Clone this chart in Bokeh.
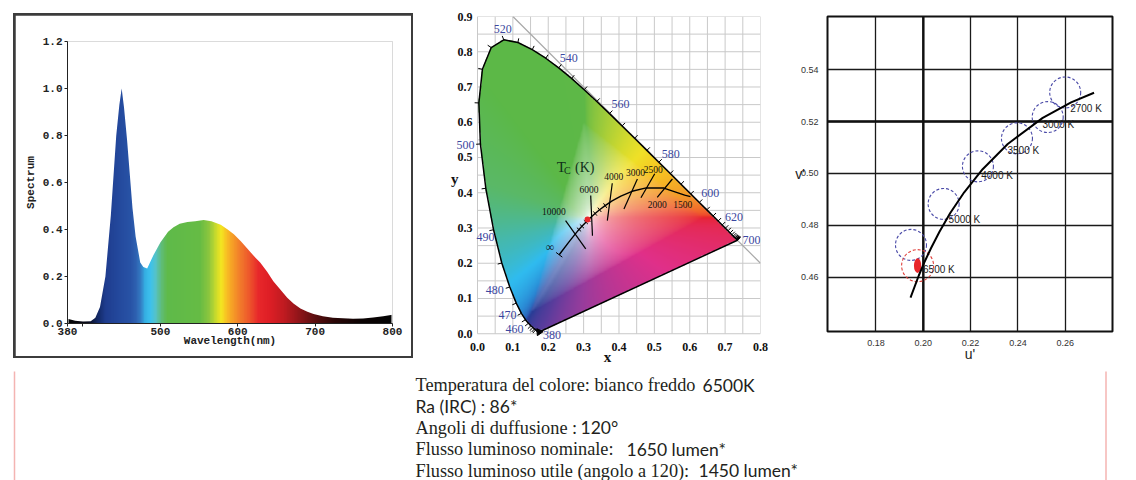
import numpy as np
from bokeh.plotting import figure
from bokeh.layouts import row, column
from bokeh.models import (Range1d, FixedTicker, NumeralTickFormatter, LabelSet,
                          ColumnDataSource, Span)
from bokeh.core.properties import value
from bokeh.embed import file_html
from bokeh.resources import INLINE

# ====================== DATA ======================
# Panel 1: LED emission spectrum (relative)
wavelength_nm = [380, 390, 400, 410, 416, 422, 429, 436, 443, 447,
                 450, 453, 457, 464, 468, 474, 478, 483, 491, 500,
                 510, 517, 525, 535, 545, 556, 566, 578, 587, 595,
                 604, 612, 620, 629, 638, 646, 655, 664, 672, 681,
                 690, 698, 710, 723, 736, 749, 762, 775, 788, 800]
spectrum = [0.020, 0.012, 0.008, 0.010, 0.025, 0.07, 0.20, 0.46, 0.80, 0.93,
            1.00, 0.92, 0.78, 0.49, 0.37, 0.26, 0.24, 0.234, 0.29, 0.345,
            0.39, 0.41, 0.425, 0.432, 0.435, 0.44, 0.435, 0.42, 0.40, 0.38,
            0.35, 0.32, 0.29, 0.26, 0.22, 0.18, 0.145, 0.11, 0.085, 0.064,
            0.05, 0.04, 0.031, 0.025, 0.022, 0.02, 0.021, 0.026, 0.031, 0.037]
spec_x_ticks = [380, 400, 500, 600, 700, 800]
spec_y_ticks = [0.0, 0.2, 0.4, 0.6, 0.8, 1.0, 1.2]

# Panel 2: CIE 1931 chromaticity diagram
locus_nm = list(range(380, 705, 5))
locus_x = [0.1741, 0.1740, 0.1738, 0.1736, 0.1733, 0.1730, 0.1726, 0.1721, 0.1714, 0.1703,
           0.1689, 0.1669, 0.1644, 0.1611, 0.1566, 0.1510, 0.1440, 0.1355, 0.1241, 0.1096,
           0.0913, 0.0687, 0.0454, 0.0235, 0.0082, 0.0039, 0.0139, 0.0389, 0.0743, 0.1142,
           0.1547, 0.1929, 0.2296, 0.2658, 0.3016, 0.3373, 0.3731, 0.4087, 0.4441, 0.4788,
           0.5125, 0.5448, 0.5752, 0.6029, 0.6270, 0.6482, 0.6658, 0.6801, 0.6915, 0.7006,
           0.7079, 0.7140, 0.7190, 0.7230, 0.7260, 0.7283, 0.7300, 0.7311, 0.7320, 0.7327,
           0.7334, 0.7340, 0.7344, 0.7346, 0.7347]
locus_y = [0.0050, 0.0050, 0.0049, 0.0049, 0.0048, 0.0048, 0.0048, 0.0048, 0.0051, 0.0058,
           0.0069, 0.0086, 0.0109, 0.0138, 0.0177, 0.0227, 0.0297, 0.0399, 0.0578, 0.0868,
           0.1327, 0.2007, 0.2950, 0.4127, 0.5384, 0.6548, 0.7502, 0.8120, 0.8338, 0.8262,
           0.8059, 0.7816, 0.7543, 0.7243, 0.6923, 0.6589, 0.6245, 0.5896, 0.5547, 0.5202,
           0.4866, 0.4544, 0.4242, 0.3965, 0.3725, 0.3514, 0.3340, 0.3197, 0.3083, 0.2993,
           0.2920, 0.2859, 0.2809, 0.2770, 0.2740, 0.2717, 0.2700, 0.2689, 0.2680, 0.2673,
           0.2666, 0.2660, 0.2656, 0.2654, 0.2653]
locus_label_nm = [380, 460, 470, 480, 490, 500, 520, 540, 560, 580, 600, 620, 700]
cie_x_ticks = [0.0, 0.1, 0.2, 0.3, 0.4, 0.5, 0.6, 0.7, 0.8]
cie_y_ticks = [0.0, 0.1, 0.2, 0.3, 0.4, 0.5, 0.6, 0.7, 0.8, 0.9]
cie_grid = [0.0, 0.05, 0.1, 0.15, 0.2, 0.25, 0.3, 0.35, 0.4, 0.45, 0.5,
            0.55, 0.6, 0.65, 0.7, 0.75, 0.8, 0.85, 0.9]
diag_x = [0.1, 0.8]          # x + y = 1 line

planck_T = ["inf", "20000", "15000", "10000", "9000", "8000", "7000", "6500", "6000",
            "5500", "5000", "4500", "4000", "3500", "3000", "2500", "2000", "1500", "end"]
planck_x = [0.231, 0.2565, 0.2637, 0.2807, 0.2869, 0.2952, 0.3064, 0.3135, 0.3221,
            0.3325, 0.3451, 0.3608, 0.3805, 0.4053, 0.4369, 0.4770, 0.5267, 0.5857, 0.602]
planck_y = [0.224, 0.2577, 0.2671, 0.2883, 0.2956, 0.3048, 0.3166, 0.3237, 0.3318,
            0.3411, 0.3516, 0.3636, 0.3768, 0.3907, 0.4041, 0.4137, 0.4133, 0.3931, 0.389]
planck_minor_T = ["9000", "8000", "7000", "6500", "5500", "5000", "4500"]

iso_x0 = [0.249, 0.320, 0.381, 0.452, 0.501, 0.551]
iso_y0 = [0.321, 0.392, 0.427, 0.439, 0.454, 0.439]
iso_x1 = [0.306, 0.325, 0.367, 0.414, 0.462, 0.508]
iso_y1 = [0.241, 0.278, 0.321, 0.354, 0.386, 0.387]
iso_labels = ["10000", "6000", "4000", "3000", "2500", "2000", "1500"]
iso_label_x = [0.216, 0.315, 0.385, 0.447, 0.497, 0.508, 0.580]
iso_label_y = [0.347, 0.408, 0.445, 0.457, 0.465, 0.368, 0.368]
measured_x = [0.311]
measured_y = [0.324]

# Panel 3: CIE 1976 u'v' detail
uv_u = [0.1946, 0.1981, 0.2004, 0.2033, 0.2069, 0.2114, 0.2173, 0.2251, 0.2357, 0.2505, 0.2625, 0.2722]
uv_v = [0.4521, 0.4606, 0.4656, 0.4712, 0.4776, 0.4847, 0.4927, 0.5016, 0.5113, 0.5214, 0.5274, 0.5311]
bin_labels = ["2700 K", "3000 K", "3500 K", "4000 K", "5000 K", "6500 K"]
bin_u = [0.2600, 0.2526, 0.2396, 0.2231, 0.2086, 0.1948]
bin_v = [0.5312, 0.5217, 0.5135, 0.5027, 0.4882, 0.4724]
bin_label_u = [0.2621, 0.2504, 0.2356, 0.2245, 0.2107, 0.1999]
bin_label_v = [0.5250, 0.5190, 0.5089, 0.4993, 0.4823, 0.4629]
meas_u = [0.1976]
meas_v = [0.4644]
uv_u_ticks = [0.18, 0.20, 0.22, 0.24, 0.26]
uv_v_ticks = [0.46, 0.48, 0.50, 0.52, 0.54]

# Text block
text_serif = ["Temperatura del colore: bianco freddo", "", "Angoli di duffusione :",
              "Flusso luminoso nominale:", "Flusso luminoso utile (angolo a 120):"]
text_sans = ["6500K", "Ra (IRC) : 86*", "120\u00b0", "1650 lumen*", "1450 lumen*"]

# ====================== STYLE ======================
def hex2rgb(h):
    h = h.lstrip("#")
    return [int(h[i:i + 2], 16) for i in (0, 2, 4)]

band_stops_nm = [380, 405, 418, 428, 445, 460, 468, 474, 479, 486,
                 493, 500, 508, 550, 562, 570, 578, 584, 592, 602,
                 614, 626, 640, 660, 680, 700, 725, 760, 800]
band_stops_col = ["#050505", "#0a0c1c", "#142a66", "#1f3d8f", "#24499d", "#2853a6", "#2f62b2", "#3480c6", "#35afe3", "#3dc2ee",
                  "#56c3c9", "#5fbd7c", "#5fba4a", "#66bc45", "#8cc63f", "#c3d92e", "#f3e621", "#f8c523", "#f6a127", "#f27d2b",
                  "#ee582b", "#e8282b", "#df1f26", "#bf1b21", "#8d1519", "#5a0f10", "#2b0707", "#0c0303", "#050505"]
hue_deg = [0, 10, 25, 40, 53, 65, 85, 110, 165, 175, 185, 197, 215, 235, 252, 275, 296, 324, 345, 360]
hue_col = ["#e8232a", "#f05a2d", "#f39a2a", "#f7c322", "#f0e128", "#d4db2e", "#9ccb3c", "#5fb947",
           "#5cb848", "#5ab868", "#45b8b0", "#30bcf0", "#2a8ad5", "#2d50aa", "#2a3c96", "#5a3c9c",
           "#9a3c9c", "#e0308a", "#e52a55", "#e8232a"]
locus_label_dx = [13, -14, -14, -15, -8, -15, -1, 10, 11, 12, 11, 12, 14]
locus_label_dy = [-3, -6, -2, -3, -7, -1, 11, 10, 10, 8, 9, 8, 0]

# ====================== PANEL 1 ======================
FONT_MONO = "Liberation Mono"
p1 = figure(width=396, height=341, x_range=Range1d(380, 800), y_range=Range1d(0, 1.2),
            output_backend="svg", toolbar_location=None, title=None,
            min_border_left=52, min_border_right=19, min_border_top=26, min_border_bottom=33,
            margin=(2, 2, 2, 2))
p1.outline_line_color = None
p1.grid.visible = False

nb = 420
centers = 380 + np.arange(nb) + 0.5
stops_rgb = np.array([hex2rgb(c) for c in band_stops_col], dtype=float)
band = np.zeros((1, nb), dtype=np.uint32)
bv = band.view(dtype=np.uint8).reshape((1, nb, 4))
for ch in range(3):
    bv[0, :, ch] = np.clip(np.interp(centers, band_stops_nm, stops_rgb[:, ch]), 0, 255).astype(np.uint8)
bv[0, :, 3] = 255
p1.image_rgba(image=[band], x=381.3, y=0, dw=417.4, dh=1.1)
p1.varea(x=wavelength_nm, y1=spectrum, y2=1.2, fill_color="white")

p1.xaxis.ticker = FixedTicker(ticks=spec_x_ticks)
p1.xaxis.major_label_overrides = {400: ""}
p1.yaxis.ticker = FixedTicker(ticks=spec_y_ticks)
p1.yaxis.formatter = NumeralTickFormatter(format="0.0")
p1.xaxis.axis_label = "Wavelength(nm)"
p1.yaxis.axis_label = "Spectrum"
for ax in (p1.xaxis[0], p1.yaxis[0]):
    ax.major_label_text_font = FONT_MONO
    ax.major_label_text_font_style = "bold"
    ax.major_label_text_font_size = "11px"
    ax.major_label_text_color = "#222222"
    ax.axis_label_text_font = FONT_MONO
    ax.axis_label_text_font_style = "bold"
    ax.axis_label_text_font_size = "11px"
    ax.axis_label_text_color = "#222222"
    ax.axis_line_color = "#222222"
    ax.major_tick_line_color = "#222222"
    ax.major_tick_in = 0
    ax.major_tick_out = 3
    ax.minor_tick_line_color = None
p1.xaxis.major_label_standoff = 1
p1.xaxis.axis_label_standoff = -3
p1.yaxis.major_label_standoff = 2
p1.yaxis.axis_label_standoff = 3
box1 = column(p1, width=400, height=345, margin=(13, 0, 0, 13),
              styles={"background-color": "#3c3c3c"})

# ====================== PANEL 2 ======================
FONT_SERIF = "Liberation Serif"
p2 = figure(width=377, height=375, x_range=Range1d(-0.065, 0.8), y_range=Range1d(-0.022, 0.9),
            output_backend="svg", toolbar_location=None, title=None,
            min_border_left=41, min_border_right=30, min_border_top=16, min_border_bottom=34,
            margin=(0, 0, -10, 0))
p2.grid.visible = False
p2.outline_line_color = None
p2.xaxis.ticker = FixedTicker(ticks=cie_x_ticks)
p2.yaxis.ticker = FixedTicker(ticks=cie_y_ticks)
p2.axis.formatter = NumeralTickFormatter(format="0.0")
p2.xaxis.axis_label = "x"
p2.yaxis.axis_label = "y"
p2.yaxis.axis_label_orientation = "horizontal"
for ax in (p2.xaxis[0], p2.yaxis[0]):
    ax.axis_line_color = None
    ax.major_tick_line_color = None
    ax.minor_tick_line_color = None
    ax.major_label_text_font = FONT_SERIF
    ax.major_label_text_font_style = "bold"
    ax.major_label_text_font_size = "12px"
    ax.major_label_text_color = "#111111"
    ax.axis_label_text_font = FONT_SERIF
    ax.axis_label_text_font_style = "bold"
    ax.axis_label_text_font_size = "15px"
    ax.axis_label_text_color = "#111111"
p2.xaxis.major_label_standoff = -5
p2.xaxis.axis_label_standoff = -5
p2.yaxis.major_label_standoff = -24
p2.yaxis.axis_label_standoff = -4

# grid (only over the 0..0.8 x 0..0.9 area)
gxs = [g for g in cie_grid if g <= 0.8]
p2.segment(gxs, [0.0] * len(gxs), gxs, [0.9] * len(gxs), line_color="#c9c9c9", line_width=1)
p2.segment([0.0] * len(cie_grid), cie_grid, [0.8] * len(cie_grid), cie_grid,
           line_color="#c9c9c9", line_width=1)

# gamut colour image
nx, ny = 400, 450
gx = (np.arange(nx) + 0.5) / nx * 0.8
gy = (np.arange(ny) + 0.5) / ny * 0.9
GX, GY = np.meshgrid(gx, gy)
px = np.array(locus_x + [locus_x[0]])
py = np.array(locus_y + [locus_y[0]])
inside = np.zeros(GX.shape, dtype=bool)
for i in range(len(px) - 1):
    x1, y1, x2, y2 = px[i], py[i], px[i + 1], py[i + 1]
    if y1 == y2:
        continue
    cond = (y1 > GY) != (y2 > GY)
    xint = x1 + (GY - y1) * (x2 - x1) / (y2 - y1)
    inside ^= cond & (GX < xint)
Xc = GX / GY
Zc = (1 - GX - GY) / GY
r = 3.2406 * Xc - 1.5372 - 0.4986 * Zc
g = -0.9689 * Xc + 1.8758 + 0.0415 * Zc
b = 0.0557 * Xc - 0.2040 + 1.0570 * Zc
rgb = np.stack([r, g, b], -1)
rgb = rgb - np.minimum(rgb.min(-1, keepdims=True), 0)
rgb = rgb / rgb.max(-1, keepdims=True)
rgb = np.where(rgb <= 0.0031308, 12.92 * rgb, 1.055 * np.power(np.clip(rgb, 0, None), 1 / 2.4) - 0.055)
mx = rgb.max(-1)
mn = rgb.min(-1)
d = mx - mn + 1e-9
R, G, B = rgb[..., 0], rgb[..., 1], rgb[..., 2]
hue = np.where(mx == R, ((G - B) / d) % 6,
               np.where(mx == G, (B - R) / d + 2, (R - G) / d + 4)) * 60.0
sat = np.clip((mx - mn) / np.maximum(mx, 1e-9), 0, 1)
hc = np.array([hex2rgb(c) for c in hue_col], dtype=float)
f = np.power(sat, 0.6)
img = np.zeros((ny, nx), dtype=np.uint32)
iv = img.view(dtype=np.uint8).reshape((ny, nx, 4))
for ch in range(3):
    col = np.interp(hue, hue_deg, hc[:, ch])
    out = 255 - (255 - col) * f
    iv[..., ch] = np.clip(out, 0, 255).astype(np.uint8)
iv[..., 3] = np.where(inside, 255, 0).astype(np.uint8)
p2.image_rgba(image=[img], x=0, y=0, dw=0.8, dh=0.9)

p2.line(diag_x, [1 - v for v in diag_x], line_color="#a8a8a8", line_width=1.2)
p2.line(locus_x + [locus_x[0]], locus_y + [locus_y[0]], line_color="black", line_width=1.5)

lx = np.array(locus_x)
ly = np.array(locus_y)
nl = len(lx)
normals = []
for i in range(nl):
    a = max(i - 2, 0)
    bb = min(i + 2, nl - 1)
    dx = lx[bb] - lx[a]
    dy = ly[bb] - ly[a]
    L = np.hypot(dx, dy)
    normals.append((-dy / L, dx / L) if L > 1e-4 else None)
tk = 0.012
t0x, t0y, t1x, t1y = [], [], [], []
for i in range(nl):
    if normals[i] is None or locus_nm[i] < 440:
        continue
    nxv, nyv = normals[i]
    t0x.append(lx[i]); t0y.append(ly[i])
    t1x.append(lx[i] + nxv * tk); t1y.append(ly[i] + nyv * tk)
p2.segment(t0x, t0y, t1x, t1y, line_color="black", line_width=1)
p2.scatter([locus_x[0]], [locus_y[0]], marker="triangle", size=7, angle=0.6,
           fill_color="black", line_color="black")

lab_idx = [locus_nm.index(nm) for nm in locus_label_nm]
p2.add_layout(LabelSet(x="x", y="y", text="t", x_offset="dx", y_offset="dy",
                       source=ColumnDataSource(dict(x=[locus_x[i] for i in lab_idx],
                                                    y=[locus_y[i] for i in lab_idx],
                                                    t=[str(nm) for nm in locus_label_nm],
                                                    dx=locus_label_dx, dy=locus_label_dy)),
                       text_align="center", text_baseline="middle", text_color="#3b47a0",
                       text_font=value(FONT_SERIF), text_font_size="12px"))

# Planckian locus
p2.line(planck_x, planck_y, line_color="black", line_width=1.4)
pxa = np.array(planck_x)
pya = np.array(planck_y)


def planck_perp(i, half):
    a = max(i - 1, 0)
    bb = min(i + 1, len(pxa) - 1)
    dx = pxa[bb] - pxa[a]
    dy = pya[bb] - pya[a]
    L = np.hypot(dx, dy)
    nxv, nyv = -dy / L, dx / L
    return pxa[i] - nxv * half, pya[i] - nyv * half, pxa[i] + nxv * half, pya[i] + nyv * half


mt = [planck_perp(planck_T.index(t), 0.008) for t in planck_minor_T]
mt.append(planck_perp(0, 0.011))
p2.segment([m[0] for m in mt], [m[1] for m in mt], [m[2] for m in mt], [m[3] for m in mt],
           line_color="black", line_width=1)
p2.segment(iso_x0, iso_y0, iso_x1, iso_y1, line_color="black", line_width=1.2)
p2.text(iso_label_x, iso_label_y, text=iso_labels, text_align="center", text_baseline="middle",
        text_font=value(FONT_SERIF), text_font_size="9.5px", text_color="#111111")
p2.text([0.205], [0.247], text=["\u221e"], text_align="center", text_baseline="middle",
        text_font=value(FONT_SERIF), text_font_size="12px", text_color="#111111")
p2.text([0.237], [0.472], text=["T"], text_align="center", text_baseline="middle",
        text_font=value(FONT_SERIF), text_font_size="15px", text_color="#10301a")
p2.text([0.254], [0.462], text=["C"], text_align="center", text_baseline="middle",
        text_font=value(FONT_SERIF), text_font_size="10px", text_color="#10301a")
p2.text([0.303], [0.471], text=["(K)"], text_align="center", text_baseline="middle",
        text_font=value(FONT_SERIF), text_font_size="14px", text_color="#10301a")
p2.scatter(measured_x, measured_y, marker="circle", size=6, fill_color="#e8262b", line_color=None)

# ====================== PANEL 3 ======================
FONT_SANS = "Liberation Sans"
p3 = figure(width=346, height=365, x_range=Range1d(0.1595, 0.280), y_range=Range1d(0.439, 0.5605),
            output_backend="svg", toolbar_location=None, title=None,
            min_border_left=37, min_border_right=24, min_border_top=13, min_border_bottom=32)
p3.outline_line_color = "#111111"
p3.outline_line_width = 2
p3.xgrid.ticker = FixedTicker(ticks=uv_u_ticks)
p3.ygrid.ticker = FixedTicker(ticks=uv_v_ticks)
p3.grid.grid_line_color = "#1a1a1a"
p3.grid.grid_line_width = 1.3
p3.add_layout(Span(location=uv_u_ticks[1], dimension="height", line_color="#111111",
                   line_width=2.4, level="underlay"))
p3.add_layout(Span(location=uv_v_ticks[3], dimension="width", line_color="#111111",
                   line_width=2.4, level="underlay"))
p3.xaxis.ticker = FixedTicker(ticks=uv_u_ticks)
p3.yaxis.ticker = FixedTicker(ticks=uv_v_ticks)
p3.axis.formatter = NumeralTickFormatter(format="0.00")
p3.xaxis.axis_label = "u'"
p3.yaxis.axis_label = "v'"
p3.yaxis.axis_label_orientation = "horizontal"
for ax in (p3.xaxis[0], p3.yaxis[0]):
    ax.axis_line_color = None
    ax.major_tick_line_color = None
    ax.minor_tick_line_color = None
    ax.major_label_text_font = FONT_SANS
    ax.major_label_text_font_size = "9px"
    ax.major_label_text_color = "#333333"
    ax.axis_label_text_font = FONT_SANS
    ax.axis_label_text_font_style = "normal"
    ax.axis_label_text_font_size = "14px"
    ax.axis_label_text_color = "#222222"
p3.xaxis.major_label_standoff = 2
p3.xaxis.axis_label_standoff = -3
p3.yaxis.major_label_standoff = 3
p3.yaxis.axis_label_standoff = -7
p3.yaxis.axis_label_text_baseline = "top"

p3.scatter(bin_u, bin_v, marker="circle", size=31, fill_color=None, line_color="#4b4ba8",
           line_dash="3 2", line_width=1.1)
p3.scatter(meas_u, meas_v, marker="circle", size=32, fill_color=None, line_color="#e0403c",
           line_dash="3 2", line_width=1.1)
p3.ellipse(x=meas_u, y=meas_v, width=0.0031, height=0.0057, fill_color="#e8262b", line_color=None)
p3.line(uv_u, uv_v, line_color="black", line_width=2)
p3.text(bin_label_u, bin_label_v, text=bin_labels, text_align="left", text_baseline="middle",
        text_font=value(FONT_SANS), text_font_size="10px", text_color="#222222")

# ====================== TEXT BLOCK ======================
p4 = figure(width=1136, height=115, x_range=Range1d(0, 1136), y_range=Range1d(480, 365),
            output_backend="svg", toolbar_location=None, title=None, min_border=0)
p4.axis.visible = False
p4.grid.visible = False
p4.outline_line_color = None
p4.segment(x0=[14, 1105.5], y0=[371, 371], x1=[14, 1105.5], y1=[480, 480],
           line_color="#f4b4b2", line_width=1.5)
line_step = 21.4
base0 = 384.5
baselines = [base0 + i * line_step for i in range(len(text_serif))]
sans_x = [702, 415, 580, 626, 698]
p4.text([415] * len(text_serif), baselines, text=text_serif, text_baseline="alphabetic",
        text_font=value(FONT_SERIF), text_font_size="18.3px", text_color="#231f20")
p4.text(sans_x, baselines, text=text_sans, text_baseline="alphabetic",
        text_font=value("Lato"), text_font_size="17.5px", text_color="#231f20")

layout = column(row(box1, p2, p3), p4)
open("out.html", "w").write(file_html(layout, INLINE))
